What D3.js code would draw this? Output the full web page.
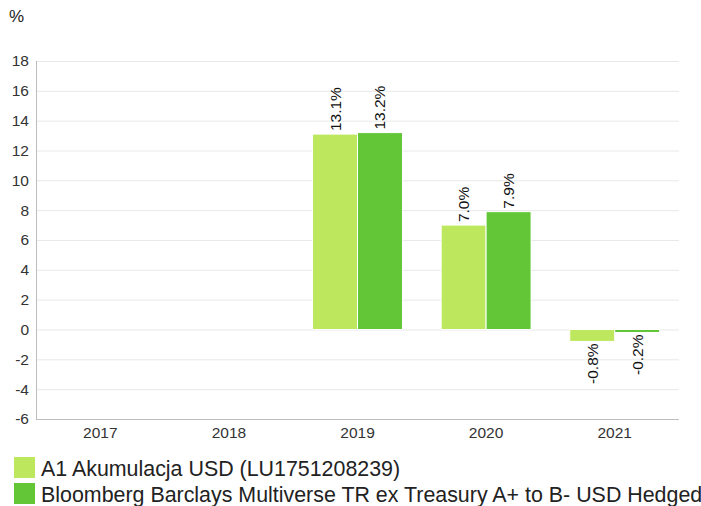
<!DOCTYPE html>
<html>
<head>
<meta charset="utf-8">
<script src="https://cdn.jsdelivr.net/npm/d3@7"></script>
<style>
  body { margin: 0; background: #fff; }
  svg text { font-family: "Liberation Sans", Arial, sans-serif; }
</style>
</head>
<body>
<svg id="chart" width="701" height="506"></svg>
<script>
// Annual returns, %
const years = ["2017", "2018", "2019", "2020", "2021"];
const fundValues = [null, null, 13.1, 7.0, -0.8];
const benchValues = [null, null, 13.2, 7.9, -0.2];
const seriesNames = [
  "A1 Akumulacja USD (LU1751208239)",
  "Bloomberg Barclays Multiverse TR ex Treasury A+ to B- USD Hedged"
];
const seriesColors = ["#bde85d", "#62c636"];
const yTicks = [-6, -4, -2, 0, 2, 4, 6, 8, 10, 12, 14, 16, 18];

const svg = d3.select("#chart");
const plotLeft = 36, plotRight = 679, plotTop = 61, plotBottom = 419;

const x = d3.scaleBand().domain(years).range([plotLeft, plotRight]).paddingInner(0).paddingOuter(0);
const inner = d3.scaleBand().domain([0, 1]).range([0, x.bandwidth()]).paddingInner(0).paddingOuter(0.43);
const y = d3.scaleLinear().domain([-6, 18]).range([plotBottom, plotTop]);

// grid
svg.append("g")
  .selectAll("line")
  .data(yTicks.filter(d => d !== -6))
  .join("line")
  .attr("x1", plotLeft).attr("x2", plotRight)
  .attr("y1", d => y(d) + 0.5).attr("y2", d => y(d) + 0.5)
  .attr("stroke", "#e8e8e8");

// y axis labels
const yAxis = d3.axisLeft(y).tickValues(yTicks).tickSize(0).tickPadding(7)
  .tickFormat(d => String(d));
const gy = svg.append("g").attr("transform", `translate(${plotLeft},0)`).call(yAxis);
gy.select(".domain").remove();
gy.selectAll("text").attr("fill", "#333").attr("font-size", 15.5);

// x axis labels
const xAxis = d3.axisBottom(x).tickSize(0).tickPadding(8);
const gx = svg.append("g").attr("transform", `translate(0,${plotBottom})`).call(xAxis);
gx.select(".domain").remove();
gx.selectAll("text").attr("fill", "#333").attr("font-size", 15.5);

// axis lines
svg.append("line").attr("x1", plotLeft + 0.5).attr("x2", plotLeft + 0.5).attr("y1", plotTop).attr("y2", plotBottom)
  .attr("stroke", "#bdbdbd");
svg.append("line").attr("x1", plotLeft).attr("x2", plotRight).attr("y1", plotBottom + 0.5).attr("y2", plotBottom + 0.5)
  .attr("stroke", "#bdbdbd");

// "%" unit label
svg.append("text").attr("x", 9).attr("y", 22).attr("font-size", 17).attr("fill", "#222").text("%");

// bars
const series = [fundValues, benchValues];
series.forEach((vals, si) => {
  const g = svg.append("g");
  const pts = years.map((yr, i) => ({ yr, v: vals[i] })).filter(d => d.v !== null);
  g.selectAll("rect")
    .data(pts)
    .join("rect")
    .attr("x", d => x(d.yr) + inner(si))
    .attr("width", inner.bandwidth())
    .attr("y", d => y(Math.max(0, d.v)))
    .attr("height", d => Math.abs(y(d.v) - y(0)))
    .attr("fill", seriesColors[si])
    .attr("stroke", "#fff")
    .attr("stroke-width", 1);

  g.selectAll("text")
    .data(pts)
    .join("text")
    .attr("transform", d => {
      const cx = x(d.yr) + inner(si) + inner.bandwidth() / 2 + 5.5;
      const cy = d.v >= 0 ? y(d.v) - 3 : y(d.v) + 2;
      return `translate(${cx},${cy}) rotate(-90)`;
    })
    .attr("text-anchor", d => d.v >= 0 ? "start" : "end")
    .attr("font-size", 15.5)
    .attr("fill", "#111")
    .text(d => d.v.toFixed(1) + "%");
});

// legend
const lg = svg.append("g");
seriesNames.forEach((name, i) => {
  const ly = 457 + i * 26;
  lg.append("rect").attr("x", 14).attr("y", ly).attr("width", 21).attr("height", 21).attr("fill", seriesColors[i]);
  lg.append("text").attr("x", 41).attr("y", ly + 19).attr("font-size", 21.4).attr("fill", "#222").text(name);
});
</script>
</body>
</html>
